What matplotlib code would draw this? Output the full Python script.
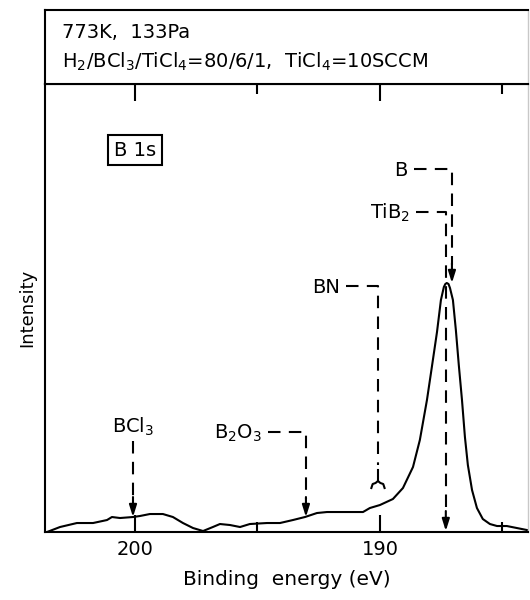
#!/usr/bin/env python3
# b1s_xps.py — B 1s XPS spectrum of a TiB2 deposit, redrawn from the printed figure

import matplotlib
matplotlib.use("Agg")
import matplotlib.pyplot as plt

# --- spectrum (binding energy in eV, intensity arb. units) ---
energy = [203.59, 203.06, 202.37, 201.71, 201.14, 200.94, 200.61, 200.08, 199.80,
          199.39, 198.86, 198.45, 198.04, 197.63, 197.22, 196.82, 196.53, 196.12,
          195.71, 195.31, 194.61, 194.08, 193.55, 193.06, 192.57, 192.16, 191.63,
          190.69, 190.41, 190.00, 189.47, 189.06, 188.65, 188.37, 188.08, 187.88,
          187.67, 187.51, 187.39, 187.33, 187.27, 187.20, 187.14, 187.02, 186.90,
          186.78, 186.65, 186.53, 186.41, 186.24, 186.04, 185.80, 185.51, 185.22,
          184.82, 184.41, 184.00]
intensity = [0, 5, 9, 9, 12, 15, 14, 15, 16,
             18, 18, 15, 9, 4, 1, 5, 8, 7,
             5, 8, 9, 9, 12, 15, 19, 20, 20,
             20, 24, 27, 33, 44, 65, 92, 132, 165,
             200, 232, 245, 248, 249, 248, 244, 232, 202,
             167, 132, 95, 67, 42, 24, 13, 8, 6,
             6, 4, 2]

# --- peak assignments ---
species = ["BCl$_3$", "B$_2$O$_3$", "BN", "TiB$_2$", "B"]
peak_ev = [200.08, 193.02, 190.08, 187.31, 187.06]

header1 = "773K,  133Pa"
header2 = r"H$_2$/BCl$_3$/TiCl$_4$=80/6/1,  TiCl$_4$=10SCCM"

plt.rcParams["font.family"] = "DejaVu Sans"
LW = 1.5
DASH = (0, (6, 4))

fig = plt.figure(figsize=(5.3, 6.0), dpi=100)
ax = fig.add_axes([0.085, 0.1133, 0.911, 0.7467])
hx = fig.add_axes([0.085, 0.86, 0.911, 0.1233])

ax.plot(energy, intensity, color="black", lw=LW)
ax.set_xlim(203.67, 183.96)
ax.set_ylim(0, 448)

ax.set_xticks([200, 190])
ax.set_xticks([195, 185], minor=True)
ax.set_yticks([])
ax.tick_params(axis="x", which="major", direction="in", length=12, width=LW,
               top=True, labelsize=14, pad=6)
ax.tick_params(axis="x", which="minor", direction="in", length=7, width=LW, top=True)
for s in ["left", "bottom", "top"]:
    ax.spines[s].set_linewidth(LW)
ax.spines["right"].set_color("#c8c8c8")
ax.spines["right"].set_linewidth(1.0)
ax.set_xlabel("Binding  energy (eV)", fontsize=14.5, labelpad=8)
ax.set_ylabel("Intensity", fontsize=13, labelpad=6)

ax.text(200.0, 382, "B 1s", fontsize=14, ha="center", va="center",
        bbox=dict(boxstyle="square,pad=0.3", fc="white", ec="black", lw=LW))


def head(x, y_from, y_to):
    ax.annotate("", xy=(x, y_to), xytext=(x, y_from),
                arrowprops=dict(arrowstyle="-|>,head_length=0.7,head_width=0.22",
                                color="black", lw=LW, shrinkA=0, shrinkB=0))


def bracket(label, x_peak, y_lab, x_text, y_tip, arrow=True):
    ax.text(x_text, y_lab, label, fontsize=14, ha="right", va="center")
    x0 = x_text - 0.25
    ax.plot([x0, x_peak, x_peak], [y_lab + 1, y_lab + 1, y_tip + 18],
            color="black", lw=LW, linestyle=DASH)
    if arrow:
        head(x_peak, y_tip + 20, y_tip)


# BCl3: label right above the arrow
ax.text(peak_ev[0], 105, species[0], fontsize=14, ha="center", va="center")
ax.plot([peak_ev[0], peak_ev[0]], [91, 35], color="black", lw=LW, linestyle=DASH)
head(peak_ev[0], 35, 15)

bracket(species[1], peak_ev[1], 99, 194.82, 15)
bracket(species[2], peak_ev[2], 245, 191.63, 49, arrow=False)
# little cap closing the BN line
cw = 0.27
ax.plot([peak_ev[2] - cw, peak_ev[2] - cw * 0.8, peak_ev[2] - 0.1, peak_ev[2],
         peak_ev[2] + 0.1, peak_ev[2] + cw * 0.8, peak_ev[2] + cw],
        [44, 48, 49, 51, 49, 48, 44], color="black", lw=LW)
ax.plot([peak_ev[2], peak_ev[2]], [51, 62], color="black", lw=LW)
bracket(species[3], peak_ev[3], 319, 188.78, 1)
bracket(species[4], peak_ev[4], 362, 188.86, 249)

# header box
hx.set_xticks([])
hx.set_yticks([])
for s in ["left", "bottom", "top"]:
    hx.spines[s].set_linewidth(LW)
hx.spines["right"].set_color("#c8c8c8")
hx.spines["right"].set_linewidth(1.0)
hx.text(0.035, 0.70, header1, fontsize=14, ha="left", va="center", transform=hx.transAxes)
hx.text(0.035, 0.30, header2, fontsize=14, ha="left", va="center", transform=hx.transAxes)

plt.savefig("out.png", dpi=100)
